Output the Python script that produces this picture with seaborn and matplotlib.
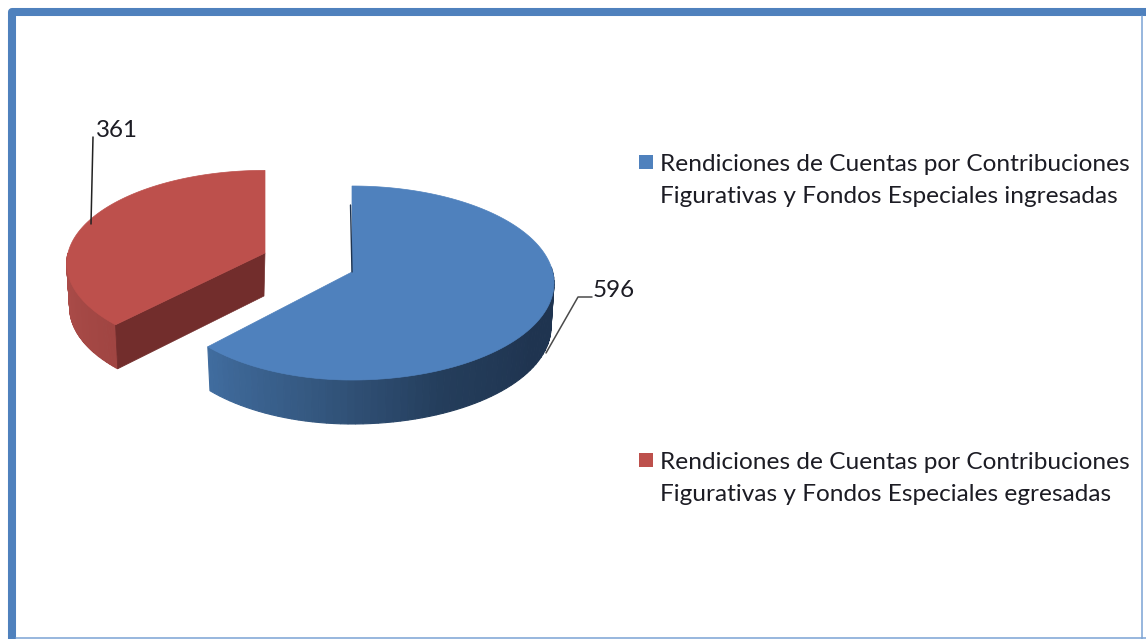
import numpy as np
import matplotlib
matplotlib.use("Agg")
import matplotlib.pyplot as plt
from matplotlib.patches import Rectangle
import seaborn as sns

values = [596, 361]
value_labels = ["596", "361"]
legend_lines = [
    ["Rendiciones de Cuentas por Contribuciones", "Figurativas y Fondos Especiales ingresadas"],
    ["Rendiciones de Cuentas por Contribuciones", "Figurativas y Fondos Especiales egresadas"],
]
top_colors = ["#4f81bd", "#bd504c"]
wall_colors = [["#406c9e", "#34577f", "#243d5b", "#1f3450", "#1f3450"], ["#ae4e4b", "#a04542"]]
cut_color = "#722d2c"
frame_color = "#4f81bd"
text_color = "#1c1c24"

# centre x, centre y, x radius left, x radius right, y scale
geometry = [(352, 272, 190, 200.7, 95.75), (265, 253, 197, 197, 92)]
perspective = 0.1134
depth = 44

sns.set_theme(style="white")
plt.rcParams["font.family"] = ["Lato", "DejaVu Sans"]

fig = plt.figure(figsize=(11.46, 6.39), dpi=100)
ax = fig.add_axes([0, 0, 1, 1])
ax.set_xlim(0, 1146)
ax.set_ylim(639, 0)
ax.axis("off")


def rim(theta, g, drop=0, shrink=1.0):
    cx, cy, rl, rr, a = g
    t = np.radians(theta)
    u, v = np.cos(t), np.sin(t)
    w = 1 + perspective * v
    rx = np.where(u < 0, rl, rr)
    return cx + shrink * u * rx / w, cy - a * v / w + drop


def draw_wall(t0, t1, g, colors):
    steps = 70
    pal = sns.blend_palette(colors, steps)
    th = np.linspace(t0, t1, steps + 1)
    for i in range(steps):
        seg = np.linspace(th[i], th[i + 1], 3)
        xt, yt = rim(seg, g)
        xb, yb = rim(seg[::-1], g, depth, 0.985)
        ax.fill(np.r_[xt, xb], np.r_[yt, yb], color=pal[i], lw=0.8)


def draw_top(t0, t1, g, color):
    th = np.linspace(t0, t1, 200)
    x, y = rim(th, g)
    ax.fill(np.r_[g[0], x], np.r_[g[1], y], color=color, lw=0.5)


# angles come from the values, pie starts at 12 o'clock and goes clockwise
sweep = 360 * np.array(values) / sum(values)
blue_t0, blue_t1 = 90, 90 - sweep[0]
red_t0, red_t1 = blue_t1, blue_t1 - sweep[1]

# red slice
draw_wall(-180, blue_t1, geometry[1], wall_colors[1])
xc, yc = rim(np.array([red_t0]), geometry[1])
xc2, yc2 = rim(np.array([red_t0]), geometry[1], depth, 0.985)
cx, cy = geometry[1][0], geometry[1][1]
ax.fill([xc[0], cx, cx - 1, xc2[0]], [yc[0], cy, cy + depth - 1, yc2[0]], color=cut_color, lw=0.5)
draw_top(red_t1, red_t0, geometry[1], top_colors[1])

# blue slice
draw_wall(blue_t1, 3, geometry[0], wall_colors[0])
draw_top(blue_t0, blue_t1, geometry[0], top_colors[0])
ax.plot([350.5, 352], [205, 272], color="#1f3450", lw=1.0)

# leader lines and value labels
ax.plot([546, 578, 592], [353, 297, 297], color="#4a4a4a", lw=1.1)
ax.plot([91, 93], [224, 137], color="#222222", lw=1.1)
ax.text(593, 297, value_labels[0], fontsize=17.4, color=text_color, va="baseline")
ax.text(96, 137, value_labels[1], fontsize=17.4, color=text_color, va="baseline")

# legend
legend_y = [171, 469]
for lines, col, y0 in zip(legend_lines, top_colors, legend_y):
    ax.add_patch(Rectangle((639, y0 - 16), 14, 14, color=col, lw=0))
    for k, line in enumerate(lines):
        ax.text(660, y0 + k * 32, line, fontsize=17.6, color=text_color, va="baseline")

# frame
ax.plot([12, 12, 1146], [639, 12, 12], color=frame_color, lw=5.8, solid_joinstyle="round", solid_capstyle="butt")
ax.plot([1142, 1142], [16, 639], color="#7ba3d4", lw=1.1)
ax.plot([16, 1146], [637.5, 637.5], color="#7ba3d4", lw=1.1)

fig.savefig("out.png", dpi=100, facecolor="white")
